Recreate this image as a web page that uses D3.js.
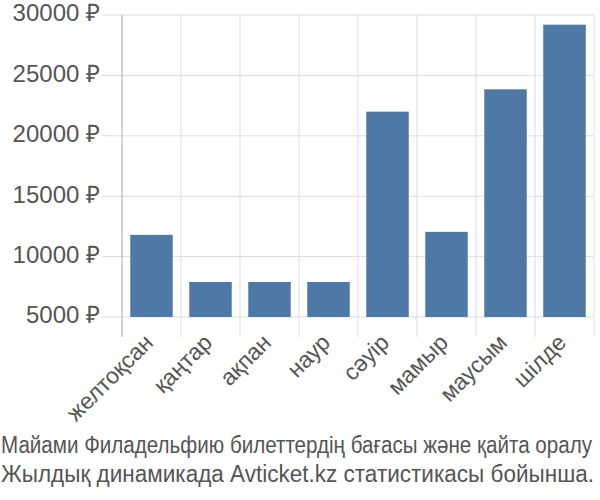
<!DOCTYPE html>
<html>
<head>
<meta charset="utf-8">
<script src="https://cdn.jsdelivr.net/npm/d3@7"></script>
<style>
    body { margin: 0; background: #fff; }
    #chart { width: 600px; height: 500px; }
</style>
</head>
<body>
<div id="chart"></div>
<script>
// data
const months = ["желтоқсан", "қаңтар", "ақпан", "наур", "сәуір", "мамыр", "маусым", "шілде"];
const prices = [11800, 7900, 7900, 7900, 22000, 12050, 23850, 29200];
const yTicks = [5000, 10000, 15000, 20000, 25000, 30000];
const titleLines = [
    "Майами Филадельфию билеттердің бағасы және қайта оралу",
    "Жылдық динамикада Avticket.kz статистикасы бойынша."
];

let margin = {top: 15, right: 6, bottom: 183, left: 122};
let width = 600 - margin.left - margin.right;
let height = 500 - margin.top - margin.bottom;

let svg = d3.select("#chart").append("svg")
    .attr("width", 600)
    .attr("height", 500)
    .append("g")
    .attr("transform", `translate(${margin.left}, ${margin.top})`);

// scales
let x = d3.scaleBand()
    .domain(months)
    .range([0, width])
    .paddingInner(0.28)
    .paddingOuter(0.14);

let y = d3.scaleLinear()
    .domain([5000, 30000])
    .range([height, 0]);

// horizontal grid
svg.append("g")
    .selectAll("line")
    .data(yTicks)
    .enter().append("line")
    .attr("x1", -20)
    .attr("x2", width)
    .attr("y1", d => y(d))
    .attr("y2", d => y(d))
    .attr("stroke", "#ddd")
    .attr("stroke-width", 1);

// vertical grid (band edges)
let edges = months.map(m => x(m) - x.step() * x.paddingInner() / 2);
edges.push(width);
svg.append("g")
    .selectAll("line")
    .data(edges)
    .enter().append("line")
    .attr("x1", d => d)
    .attr("x2", d => d)
    .attr("y1", 0)
    .attr("y2", height + 20)
    .attr("stroke", (d, i) => i === 0 ? "#aaa" : "#ddd")
    .attr("stroke-width", 1);

// y labels
svg.append("g")
    .selectAll("text")
    .data(yTicks)
    .enter().append("text")
    .attr("x", -22)
    .attr("y", d => y(d))
    .attr("dy", "0.27em")
    .attr("text-anchor", "end")
    .attr("font-family", "Liberation Sans, Arial, sans-serif")
    .attr("font-size", "24px")
    .attr("fill", "#555")
    .text(d => d + " ₽");

// bars
svg.append("g")
    .selectAll("rect")
    .data(months)
    .enter().append("rect")
    .attr("x", d => x(d))
    .attr("y", (d, i) => y(prices[i]))
    .attr("width", x.bandwidth())
    .attr("height", (d, i) => height - y(prices[i]))
    .attr("fill", "#4e79a7");

// x labels
svg.append("g")
    .selectAll("text")
    .data(months)
    .enter().append("text")
    .attr("transform", d => `translate(${x(d) + x.bandwidth() / 2 + 3}, ${height + 27}) rotate(-45)`)
    .attr("text-anchor", "end")
    .attr("font-family", "Liberation Sans, Arial, sans-serif")
    .attr("font-size", "23px")
    .attr("fill", "#555")
    .text(d => d);

// caption: narrow font, stretched a bit taller, each line fitted to the width
let capLen = [591, 593];
d3.select("#chart svg").append("g")
    .selectAll("text")
    .data(titleLines)
    .enter().append("text")
    .attr("transform", (d, i) => `translate(1, ${453 + i * 29}) scale(1, 1.15)`)
    .attr("textLength", (d, i) => capLen[i])
    .attr("lengthAdjust", "spacingAndGlyphs")
    .attr("font-family", "Liberation Sans Narrow, Arial Narrow, sans-serif")
    .attr("font-size", "20px")
    .attr("fill", "#555")
    .text(d => d);
</script>
</body>
</html>
